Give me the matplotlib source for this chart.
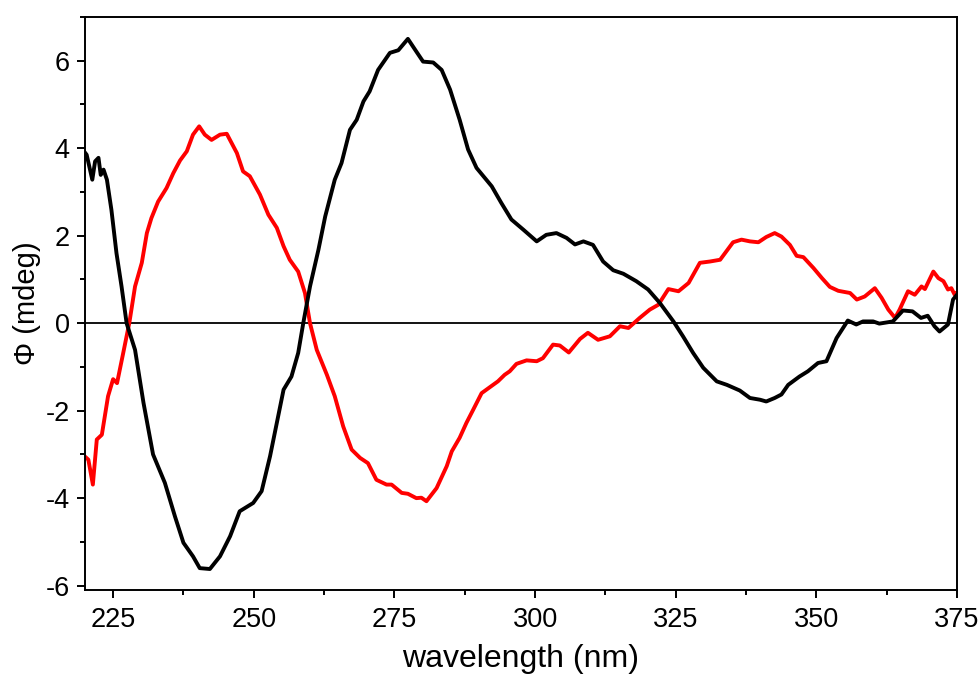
import matplotlib
matplotlib.use("Agg")
import matplotlib.pyplot as plt
import numpy as np
from matplotlib.ticker import MultipleLocator

plt.rcParams['font.family'] = ['Liberation Sans', 'DejaVu Sans']
plt.rcParams['axes.unicode_minus'] = False

# Black curve (wavelength nm, CD mdeg)
black_x = [220.0, 220.3, 221.3, 221.8, 222.4, 222.8, 223.3, 223.9, 224.7, 225.6, 226.5, 227.4,
           228.9, 230.4, 232.1, 234.2, 236.0, 237.5, 239.2, 240.4, 242.2, 244.0, 245.8, 247.5,
           249.9, 251.4, 252.9, 254.1, 255.3, 256.7, 257.9, 258.8, 260.0, 261.5, 262.7, 264.4,
           265.6, 267.1, 268.3, 269.5, 270.6, 272.1, 274.2, 275.7, 277.4, 278.9, 280.1, 281.9,
           283.4, 284.9, 286.6, 288.1, 289.6, 292.3, 294.0, 295.8, 297.9, 300.3, 302.0, 303.8,
           305.6, 307.1, 308.6, 310.3, 312.1, 313.9, 315.7, 318.0, 320.1, 322.2, 324.6, 326.3,
           328.1, 329.9, 332.3, 334.1, 336.4, 338.2, 340.0, 341.1, 342.6, 343.8, 345.0, 347.0,
           348.5, 350.3, 351.8, 353.6, 355.6, 357.1, 358.3, 360.1, 361.2, 363.6, 365.4, 367.1,
           368.6, 369.8, 371.0, 371.9, 373.4, 374.3, 375.0]
black_y = [3.90, 3.85, 3.28, 3.70, 3.78, 3.39, 3.51, 3.28, 2.59, 1.60, 0.84, 0.00,
           -0.61, -1.82, -3.00, -3.65, -4.42, -5.02, -5.33, -5.60, -5.62, -5.33, -4.87, -4.30,
           -4.11, -3.84, -3.04, -2.28, -1.52, -1.22, -0.68, 0.00, 0.84, 1.68, 2.44, 3.28,
           3.66, 4.42, 4.65, 5.07, 5.30, 5.79, 6.18, 6.24, 6.50, 6.21, 5.98, 5.96,
           5.79, 5.34, 4.65, 3.97, 3.55, 3.13, 2.75, 2.37, 2.14, 1.87, 2.02, 2.06,
           1.95, 1.80, 1.87, 1.79, 1.41, 1.21, 1.13, 0.96, 0.77, 0.46, 0.04, -0.30,
           -0.68, -1.02, -1.33, -1.41, -1.54, -1.71, -1.75, -1.79, -1.71, -1.63, -1.41, -1.22,
           -1.10, -0.91, -0.87, -0.34, 0.06, -0.03, 0.04, 0.04, -0.01, 0.04, 0.29, 0.27,
           0.12, 0.17, -0.07, -0.19, -0.03, 0.54, 0.65]

# Red curve
red_x = [220.0, 220.6, 221.4, 222.1, 223.0, 224.1, 225.0, 225.7, 226.8, 227.9, 228.9, 230.1,
         231.0, 231.8, 233.0, 234.5, 235.7, 236.9, 238.1, 239.2, 240.3, 241.3, 242.5, 244.0,
         245.2, 247.0, 248.1, 249.3, 251.1, 252.6, 254.1, 255.3, 256.4, 257.9, 259.1, 260.0,
         261.2, 263.0, 264.4, 265.9, 267.4, 268.9, 270.3, 271.8, 273.6, 274.5, 276.3, 277.4,
         278.9, 279.8, 280.7, 282.5, 284.3, 285.2, 286.6, 287.8, 289.0, 290.5, 292.0, 293.4,
         294.6, 295.5, 296.7, 298.5, 300.3, 301.4, 303.2, 304.4, 306.0, 308.0, 309.4, 311.2,
         313.3, 315.1, 316.6, 318.6, 320.4, 321.9, 323.7, 325.5, 327.3, 329.3, 331.1, 332.9,
         335.2, 336.7, 338.2, 339.7, 341.1, 342.6, 343.8, 345.3, 346.5, 347.7, 349.5, 351.0,
         352.4, 353.9, 356.0, 357.2, 358.6, 360.4, 361.6, 362.8, 364.0, 364.8, 366.3, 367.5,
         368.7, 369.3, 370.8, 371.7, 372.6, 373.4, 374.0, 374.6, 375.0]
red_y = [-3.05, -3.12, -3.69, -2.66, -2.55, -1.67, -1.28, -1.37, -0.68, 0.02, 0.84, 1.38,
         2.06, 2.40, 2.78, 3.09, 3.43, 3.72, 3.93, 4.31, 4.50, 4.31, 4.19, 4.31,
         4.33, 3.89, 3.47, 3.36, 2.94, 2.48, 2.18, 1.76, 1.45, 1.18, 0.69, 0.00,
         -0.61, -1.18, -1.67, -2.36, -2.89, -3.08, -3.20, -3.58, -3.69, -3.69, -3.88, -3.90,
         -4.00, -3.99, -4.07, -3.77, -3.27, -2.93, -2.62, -2.28, -1.98, -1.60, -1.46, -1.33,
         -1.18, -1.10, -0.93, -0.85, -0.87, -0.80, -0.49, -0.51, -0.67, -0.36, -0.22, -0.38,
         -0.30, -0.07, -0.11, 0.12, 0.31, 0.42, 0.78, 0.73, 0.92, 1.38, 1.41, 1.45,
         1.85, 1.91, 1.87, 1.85, 1.97, 2.06, 1.98, 1.79, 1.54, 1.51, 1.26, 1.03,
         0.83, 0.74, 0.69, 0.54, 0.61, 0.80, 0.58, 0.31, 0.12, 0.31, 0.73, 0.65,
         0.84, 0.78, 1.18, 1.03, 0.96, 0.77, 0.80, 0.65, 0.70]

x_ticks = [225, 250, 275, 300, 325, 350, 375]
y_ticks = [-6, -4, -2, 0, 2, 4, 6]

fig = plt.figure(figsize=(9.79, 6.77), dpi=100)
ax = fig.add_axes([0.0868, 0.1285, 0.8907, 0.8464])

ax.axhline(0, color='black', lw=1.3, zorder=1)
ax.plot(black_x, black_y, color='black', lw=2.8, zorder=3, solid_joinstyle='round')
ax.plot(red_x, red_y, color='#ff0000', lw=2.8, zorder=2, solid_joinstyle='round')

ax.set_xlim(220, 375)
ax.set_ylim(-6.1, 7.0)
ax.set_xticks(x_ticks)
ax.set_yticks(y_ticks)
ax.set_xticklabels([str(v) for v in x_ticks])
ax.set_yticklabels([str(v) for v in y_ticks])
ax.xaxis.set_minor_locator(MultipleLocator(12.5))
ax.yaxis.set_minor_locator(MultipleLocator(1))
ax.tick_params(which='major', direction='out', length=6, width=1.4, labelsize=19.5)
ax.tick_params(axis='x', which='major', pad=6)
ax.tick_params(axis='y', which='major', pad=5)
ax.tick_params(which='minor', direction='out', length=3.5, width=1.4)
ax.tick_params(top=False, right=False)
for s in ax.spines.values():
    s.set_linewidth(1.4)

ax.set_xlabel('wavelength (nm)', fontsize=23, labelpad=8)
ax.set_ylabel('Φ (mdeg)', fontsize=21, labelpad=3)

fig.savefig('out.png', dpi=100)
